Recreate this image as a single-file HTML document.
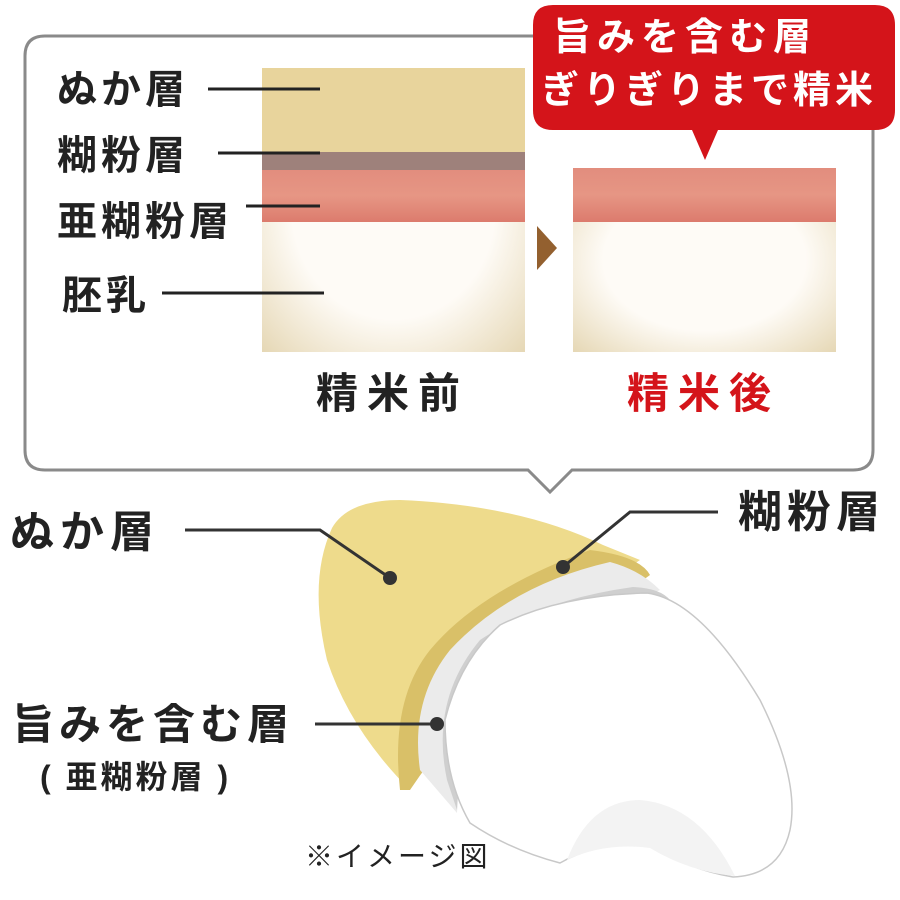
<!DOCTYPE html>
<html><head><meta charset="utf-8"><style>
body{margin:0;width:900px;height:900px;background:#fff;overflow:hidden;position:relative;font-family:"Liberation Sans","Noto Sans CJK JP",sans-serif}
.t{position:absolute;white-space:nowrap;color:#222;font-weight:bold;line-height:1}
</style></head><body>
<svg width="900" height="900" style="position:absolute;left:0;top:0">
<defs>
<radialGradient id="cream" cx="50%" cy="50%" r="70%"><stop offset="55%" stop-color="#fefbf6"/><stop offset="100%" stop-color="#e6d8b6"/></radialGradient>
<linearGradient id="sal" x1="0" y1="0" x2="0" y2="1"><stop offset="0" stop-color="#e28d7e"/><stop offset="0.5" stop-color="#e69684"/><stop offset="1" stop-color="#dc7b6d"/></linearGradient>
</defs>
<path d="M45,36 H853 Q873,36 873,56 V450 Q873,470 853,470 H572 L550,492 L528,470 H45 Q25,470 25,450 V56 Q25,36 45,36 Z" fill="#fff" stroke="#8a8a8a" stroke-width="3"/>
<rect x="262" y="68" width="263" height="284" fill="url(#cream)"/>
<rect x="262" y="68" width="263" height="84" fill="#e8d49c"/>
<rect x="262" y="152" width="263" height="18" fill="#9e817b"/>
<rect x="262" y="170" width="263" height="52" fill="url(#sal)"/>
<rect x="573" y="168" width="263" height="184" fill="url(#cream)"/>
<rect x="573" y="168" width="263" height="54" fill="url(#sal)"/>
<polygon points="537,226 557,248 537,270" fill="#93602f"/>
<path d="M553,5 H875 Q895,5 895,25 V110 Q895,130 875,130 H718 L705,160 L692,130 H553 Q533,130 533,110 V25 Q533,5 553,5 Z" fill="#d4141a"/>
<g stroke="#222" stroke-width="3">
<line x1="208" y1="89" x2="320" y2="89"/>
<line x1="218" y1="153" x2="320" y2="153"/>
<line x1="246" y1="206" x2="320" y2="206"/>
<line x1="162" y1="293" x2="324" y2="293"/>
</g>
<path d="M332,528 Q348,500 400,500 Q520,505 603,545 L640,560 L520,640 Q440,700 410,790 Q350,730 327,660 Q308,580 332,528 Z" fill="#eedb8c"/>
<path d="M590,550 Q640,556 650,575 L560,640 Q470,700 410,790 L400,790 Q390,700 430,650 Q480,590 590,550 Z" fill="#d9c068"/>
<path d="M610,562 Q640,570 660,590 L520,660 Q460,720 457,813 L420,770 Q410,700 450,650 Q510,585 610,562 Z" fill="#ebebeb"/>
<path d="M633,587 Q660,588 670,600 L520,670 Q460,720 457,810 L447,780 Q430,700 480,640 Q540,600 633,587 Z" fill="#cfcfcf"/>
<path d="M647,593 Q700,600 760,700 Q800,780 790,830 Q780,875 733,877 Q690,870 650,845 Q600,840 560,863 Q510,850 470,823 Q445,780 445,720 Q460,660 500,625 Q560,595 647,593 Z" fill="#fff" stroke="#c8c8c8" stroke-width="1.5"/>
<path d="M567,860 Q590,800 640,800 Q700,805 735,876 Q690,872 650,848 Q605,842 567,860 Z" fill="#f3f3f3"/>
<g stroke="#333" stroke-width="3" fill="none">
<polyline points="185,530 320,530 390,578"/>
<polyline points="718,512 630,512 563,567"/>
<line x1="315" y1="724" x2="437" y2="724"/>
</g>
<g fill="#333"><circle cx="390" cy="578" r="7"/><circle cx="563" cy="567" r="7"/><circle cx="437" cy="724" r="7"/></g>
</svg>
<div class="t" style="left:57px;top:70px;font-size:40px;letter-spacing:4px">ぬか層</div>
<div class="t" style="left:57px;top:136px;font-size:40px;letter-spacing:4px">糊粉層</div>
<div class="t" style="left:57px;top:202px;font-size:40px;letter-spacing:4px">亜糊粉層</div>
<div class="t" style="left:62px;top:276px;font-size:40px;letter-spacing:4px">胚乳</div>
<div class="t" style="left:316px;top:373px;font-size:42px;letter-spacing:9px">精米前</div>
<div class="t" style="left:627px;top:373px;font-size:42px;letter-spacing:9px;color:#d4141a">精米後</div>
<div class="t" style="left:553px;top:19px;font-size:38px;letter-spacing:6px;color:#fff">旨みを含む層</div>
<div class="t" style="left:541px;top:72px;font-size:38px;letter-spacing:4px;color:#fff">ぎりぎりまで精米</div>
<div class="t" style="left:10px;top:511px;font-size:44px;letter-spacing:6px">ぬか層</div>
<div class="t" style="left:738px;top:491px;font-size:44px;letter-spacing:5px">糊粉層</div>
<div class="t" style="left:12px;top:704px;font-size:42px;letter-spacing:5px">旨みを含む層</div>
<div class="t" style="left:40px;top:761px;font-size:32px;letter-spacing:3px">( 亜糊粉層 )</div>
<div class="t" style="left:305px;top:843px;font-size:28px;letter-spacing:3px;font-weight:normal">※イメージ図</div>
</body></html>
